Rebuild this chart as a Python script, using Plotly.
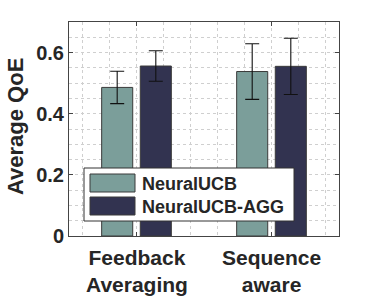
import plotly.graph_objects as go

categories = ["Feedback<br>Averaging", "Sequence<br>aware"]
series_names = ["NeuralUCB", "NeuralUCB-AGG"]
neuralucb = [0.486, 0.538]
neuralucb_err = [0.053, 0.091]
agg = [0.556, 0.555]
agg_err = [0.050, 0.092]
y_ticks = [0, 0.2, 0.4, 0.6]
y_tick_labels = ["0", "0.2", "0.4", "0.6"]

colors = ["#7b9e9a", "#323350"]
xpos = [1, 2]
off = 0.143
W, H = 374, 299
L, R, T, B = 69, 35, 22, 63
pw, ph = W - L - R, H - T - B

def px(x):
    return (x - L) / pw

def py(y):
    return (H - B - y) / ph

fig = go.Figure()
for i, (vals, errs) in enumerate([(neuralucb, neuralucb_err), (agg, agg_err)]):
    fig.add_trace(go.Bar(
        x=[p + (-off if i == 0 else off) for p in xpos], y=vals, width=0.23,
        name=series_names[i],
        marker=dict(color=colors[i], line=dict(color="#3a3a3a", width=1)),
        error_y=dict(type="data", array=errs, color="#111111", thickness=1.1, width=7),
        showlegend=False,
    ))

font = dict(family="Liberation Sans, Arial, sans-serif", color="#262626")

# custom legend
lx0, lx1, ly0, ly1 = 84, 294, 168, 221
shapes = [dict(type="rect", xref="paper", yref="paper", x0=px(lx0), x1=px(lx1),
               y0=py(ly1), y1=py(ly0), fillcolor="white",
               line=dict(color="#333333", width=1), layer="above")]
annotations = []
for i, name in enumerate(series_names):
    yt, yb = (174, 192) if i == 0 else (197, 215)
    shapes.append(dict(type="rect", xref="paper", yref="paper", x0=px(90), x1=px(135),
                       y0=py(yb), y1=py(yt), fillcolor=colors[i],
                       line=dict(color="#3a3a3a", width=1), layer="above"))
    annotations.append(dict(text=name, xref="paper", yref="paper", x=px(140),
                            y=py((yt + yb) / 2 + 0.5), xanchor="left", yanchor="middle",
                            showarrow=False, font=dict(size=18, weight="bold", **font)))
annotations.append(dict(text="Average QoE", xref="paper", yref="paper", x=px(15),
                        y=py(127), textangle=-90, xanchor="center", yanchor="middle",
                        showarrow=False, font=dict(size=22, weight="bold", **font)))
# category labels under the axis
for xp, cat in zip(xpos, categories):
    annotations.append(dict(text=cat, xref="x", yref="paper", x=xp, y=py(244),
                            xanchor="center", yanchor="top", showarrow=False,
                            font=dict(size=21, weight="bold", **font)))

fig.update_layout(
    width=W, height=H, margin=dict(l=L, r=R, t=T, b=B, autoexpand=False),
    plot_bgcolor="white", paper_bgcolor="white",
    barmode="overlay", shapes=shapes, annotations=annotations,
    font=font,
)
fig.update_xaxes(
    range=[0.5, 2.5], tickvals=xpos, ticktext=["", ""], automargin=False,
    showline=True, linecolor="#444444", linewidth=1, mirror="ticks",
    ticks="inside", ticklen=4, tickcolor="#444444",
    showgrid=True, gridcolor="#cfcfcf", griddash="dot", gridwidth=1,
    minor=dict(tick0=0, dtick=0.2, showgrid=True, gridcolor="#cfcfcf", griddash="dot", ticks=""),
    zeroline=False,
)
fig.update_yaxes(
    range=[0, 0.7], tickvals=y_ticks, ticktext=y_tick_labels, automargin=False,
    tickfont=dict(size=20, weight="bold", **font),
    showline=True, linecolor="#444444", linewidth=1, mirror="ticks",
    ticks="inside", ticklen=4, tickcolor="#444444",
    showgrid=True, gridcolor="#cfcfcf", griddash="dot", gridwidth=1,
    minor=dict(tick0=0, dtick=0.05, showgrid=True, gridcolor="#cfcfcf", griddash="dot", ticks=""),
    zeroline=False,
)
fig.write_html("out.html", config={"displayModeBar": False},
               post_script="document.body.style.margin='0';")
